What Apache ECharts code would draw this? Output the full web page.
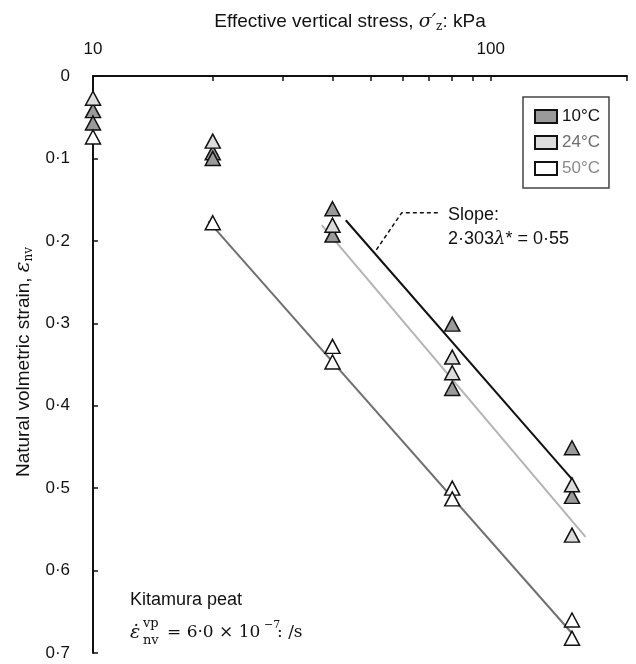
<!DOCTYPE html>
<html>
<head>
<meta charset="utf-8">
<script src="https://cdn.jsdelivr.net/npm/echarts@6/dist/echarts.min.js"></script>
<style>html,body{margin:0;padding:0;background:#fff}#c{width:636px;height:664px}</style>
</head>
<body>
<div id="c"></div>
<script>
// ---- data ----
const xTickValues = [10, 20, 30, 40, 50, 60, 70, 80, 90, 100, 220];
const xLabelValues = [10, 100];

const seriesNames = ['10°C', '24°C', '50°C'];
const stress10C = [10, 10, 20, 20, 40, 40, 80, 80, 160, 160];
const strain10C = [0.042, 0.057, 0.093, 0.100, 0.161, 0.193, 0.301, 0.379, 0.451, 0.510];
const stress24C = [10, 20, 40, 80, 80, 160, 160];
const strain24C = [0.027, 0.079, 0.181, 0.341, 0.360, 0.496, 0.557];
const stress50C = [10, 20, 40, 40, 80, 80, 160, 160];
const strain50C = [0.074, 0.178, 0.328, 0.347, 0.500, 0.513, 0.660, 0.682];

const fitStress10C = [43.2, 160];
const fitStrain10C = [0.175, 0.489];
const fitStress24C = [37.6, 173];
const fitStrain24C = [0.181, 0.559];
const fitStress50C = [19.5, 160];
const fitStrain50C = [0.176, 0.676];

const leaderStress = [73.6, 59.7, 51.1];
const leaderStrain = [0.166, 0.166, 0.2136];

// ---- chart ----
const zip = (xs, ys) => xs.map((x, i) => [x, ys[i]]);
const dot = v => String(v).replace('.', '·');
const SANS = '"Liberation Sans", Arial, sans-serif';
const SERIF = '"DejaVu Serif", "Liberation Serif", serif';
const fills = ['#9a9a9a', '#dcdcdc', '#ffffff'];
const lineCols = ['#111111', '#b4b4b4', '#707070'];
const pts = [zip(stress10C, strain10C), zip(stress24C, strain24C), zip(stress50C, strain50C)];
const fits = [zip(fitStress10C, fitStrain10C), zip(fitStress24C, fitStrain24C), zip(fitStress50C, fitStrain50C)];

const series = [];
fits.forEach((d, i) => series.push({
  type: 'line', data: d, symbol: 'none', silent: true, z: 2,
  lineStyle: { color: lineCols[i], width: 2 }
}));
series.push({
  type: 'line', data: zip(leaderStress, leaderStrain), symbol: 'none', silent: true, z: 2,
  lineStyle: { color: '#111', width: 1.5, type: [4, 3] }
});
pts.forEach((d, i) => series.push({
  name: seriesNames[i], type: 'scatter', data: d, symbol: 'triangle', symbolSize: [15, 14], z: 5,
  itemStyle: { color: fills[i], borderColor: '#111', borderWidth: 1.5, opacity: 1 }
}));

const chart = echarts.init(document.getElementById('c'), null, { renderer: 'canvas' });
chart.setOption({
  animation: false,
  backgroundColor: '#fff',
  grid: { left: 93, top: 76, right: 9, bottom: 11, containLabel: false },
  xAxis: {
    type: 'log', logBase: 10, position: 'top', min: 10, max: 220,
    axisLine: { show: true, lineStyle: { color: '#111', width: 2 } },
    axisTick: { show: true, inside: true, length: 5, customValues: xTickValues, lineStyle: { color: '#111', width: 1.5 } },
    axisLabel: { show: true, customValues: xLabelValues, fontSize: 17, color: '#111', fontFamily: SANS, margin: 18 },
    minorTick: { show: false }, splitLine: { show: false }
  },
  yAxis: {
    type: 'value', inverse: true, min: 0, max: 0.7, interval: 0.1,
    axisLine: { show: true, lineStyle: { color: '#111', width: 2 } },
    axisTick: { show: true, inside: true, length: 5, lineStyle: { color: '#111', width: 1.5 } },
    axisLabel: { fontSize: 17, color: '#111', fontFamily: SANS, margin: 23, formatter: v => dot(Math.round(v * 10) / 10) },
    splitLine: { show: false }
  },
  legend: {
    orient: 'vertical', left: 523, top: 97, icon: 'rect', itemWidth: 22, itemHeight: 13, itemGap: 9,
    padding: [11, 9, 11, 11], borderColor: '#444', borderWidth: 1.5, backgroundColor: '#fff',
    textStyle: { fontSize: 17, fontFamily: SANS },
    data: [
      { name: '10°C', textStyle: { color: '#111' } },
      { name: '24°C', textStyle: { color: '#6e6e6e' } },
      { name: '50°C', textStyle: { color: '#8a8a8a' } }
    ]
  },
  graphic: [
    { type: 'text', x: 350, y: 22, style: {
      text: '{a|Effective vertical stress, }{s|σ′}{b|z}{a|: kPa}', align: 'center', verticalAlign: 'middle',
      rich: { a: { fontSize: 19, fontFamily: SANS, fill: '#111' },
              s: { fontSize: 19, fontFamily: SERIF, fontStyle: 'italic', fill: '#111' },
              b: { fontSize: 12, fontFamily: SERIF, fill: '#111', padding: [9, 0, 0, 0] } } } },
    { type: 'text', x: 24, y: 362, rotation: Math.PI / 2, style: {
      text: '{a|Natural volmetric strain, }{s|ε}{b|nv}', align: 'center', verticalAlign: 'middle',
      rich: { a: { fontSize: 19, fontFamily: SANS, fill: '#111' },
              s: { fontSize: 20, fontFamily: SERIF, fontStyle: 'italic', fill: '#111' },
              b: { fontSize: 12, fontFamily: SERIF, fill: '#111', padding: [9, 0, 0, 0] } } } },
    { type: 'text', x: 448, y: 215, style: { text: 'Slope:', fontSize: 18, fontFamily: SANS, fill: '#111', verticalAlign: 'middle' } },
    { type: 'text', x: 448, y: 239, style: {
      text: '{a|2·303}{l|λ}{a|* = 0·55}', verticalAlign: 'middle',
      rich: { a: { fontSize: 18, fontFamily: SANS, fill: '#111' },
              l: { fontSize: 18, fontFamily: SERIF, fontStyle: 'italic', fill: '#111' } } } },
    { type: 'text', x: 130, y: 600, style: { text: 'Kitamura peat', fontSize: 18, fontFamily: SANS, fill: '#111', verticalAlign: 'middle' } },
    { type: 'text', x: 130, y: 633, style: { text: 'ε̇', fontSize: 19, fontFamily: SERIF, fontStyle: 'italic', fill: '#111', verticalAlign: 'middle' } },
    { type: 'text', x: 143, y: 624, style: { text: 'vp', fontSize: 13, fontFamily: SERIF, fill: '#111', verticalAlign: 'middle' } },
    { type: 'text', x: 143, y: 641, style: { text: 'nv', fontSize: 13, fontFamily: SERIF, fill: '#111', verticalAlign: 'middle' } },
    { type: 'text', x: 167, y: 633, style: { text: '= 6·0 × 10', fontSize: 17, fontFamily: SERIF, fill: '#111', verticalAlign: 'middle' } },
    { type: 'text', x: 264, y: 625, style: { text: '−7', fontSize: 11, fontFamily: SERIF, fill: '#111', verticalAlign: 'middle' } },
    { type: 'text', x: 277, y: 633, style: { text: ': /s', fontSize: 17, fontFamily: SERIF, fill: '#111', verticalAlign: 'middle' } }
  ],
  series: series
});
</script>
</body>
</html>
